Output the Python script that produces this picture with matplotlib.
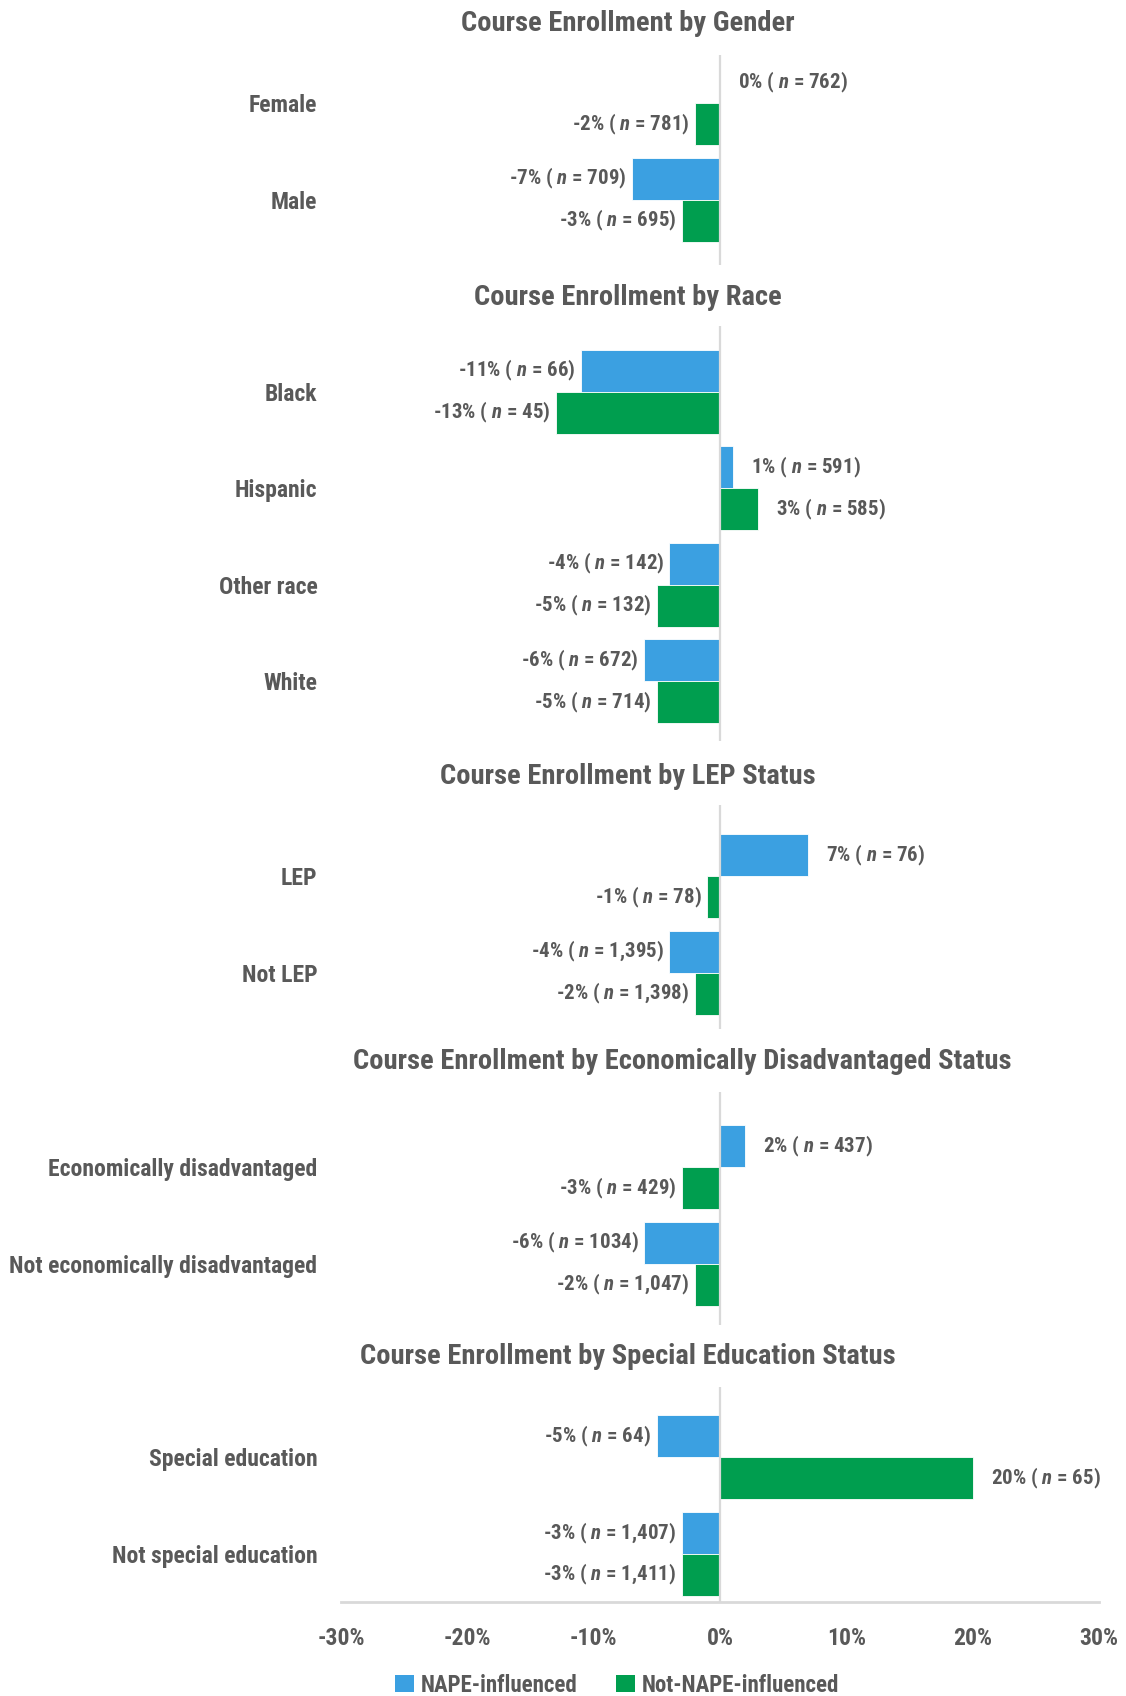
import matplotlib
matplotlib.use("Agg")
import matplotlib.pyplot as plt
from matplotlib import font_manager
from matplotlib.patches import Patch

# ---- data -------------------------------------------------------------
gender_groups = ["Female", "Male"]
gender_nape = [0, -7]
gender_nape_n = ["762", "709"]
gender_other = [-2, -3]
gender_other_n = ["781", "695"]

race_groups = ["Black", "Hispanic", "Other race", "White"]
race_nape = [-11, 1, -4, -6]
race_nape_n = ["66", "591", "142", "672"]
race_other = [-13, 3, -5, -5]
race_other_n = ["45", "585", "132", "714"]

lep_groups = ["LEP", "Not LEP"]
lep_nape = [7, -4]
lep_nape_n = ["76", "1,395"]
lep_other = [-1, -2]
lep_other_n = ["78", "1,398"]

econ_groups = ["Economically disadvantaged", "Not economically disadvantaged"]
econ_nape = [2, -6]
econ_nape_n = ["437", "1034"]
econ_other = [-3, -2]
econ_other_n = ["429", "1,047"]

sped_groups = ["Special education", "Not special education"]
sped_nape = [-5, -3]
sped_nape_n = ["64", "1,407"]
sped_other = [20, -3]
sped_other_n = ["65", "1,411"]

x_ticks = [-30, -20, -10, 0, 10, 20, 30]
series_names = ["NAPE-influenced", "Not-NAPE-influenced"]

# ---- style ------------------------------------------------------------
BLUE = "#3BA0E1"
GREEN = "#009E4F"
TEXT = "#595959"
AXIS_GRAY = "#D9D9D9"

installed = {f.name for f in font_manager.fontManager.ttflist}
NARROW = ["Roboto Condensed", "Liberation Sans Narrow", "Open Sans Condensed"]
narrow_found = [name for name in NARROW if name in installed]
if narrow_found:
    FONT = narrow_found[0]
    SIZES = dict(title=20.5, group=17, value=15, tick=17, legend=16.5)
else:
    FONT = "Roboto"
    SIZES = dict(title=18.5, group=14.8, value=13.8, tick=15, legend=15)

plt.rcParams["font.family"] = [FONT, "DejaVu Sans"]
plt.rcParams["font.weight"] = "bold"
plt.rcParams["mathtext.fontset"] = "custom"
plt.rcParams["mathtext.it"] = f"{FONT}:italic:bold"
plt.rcParams["mathtext.rm"] = f"{FONT}:bold"

W, H = 1126, 1696
UNIT = 96.5          # pixels per category row
X_LEFT, X_RIGHT = 341, 1099
BAR_H = 0.435


def draw_section(fig, top_px, pad_top, pad_bottom, title, title_x, title_base,
                 groups, nape, nape_n, other, other_n, last=False):
    n = len(groups)
    height_px = (n - 1 + pad_top + pad_bottom) * UNIT
    axis = fig.add_axes([X_LEFT / W, 1 - (top_px + height_px) / H,
                         (X_RIGHT - X_LEFT) / W, height_px / H])
    axis.set_xlim(-30, 30)
    axis.set_ylim(n - 1 + pad_bottom, -pad_top)

    rows = list(range(n))
    for values, counts, shift, color in ((nape, nape_n, -BAR_H / 2, BLUE),
                                         (other, other_n, BAR_H / 2, GREEN)):
        ys = [r + shift for r in rows]
        axis.barh(ys, values, height=BAR_H, color=color,
                  edgecolor="white", linewidth=0.6, zorder=2)
        for y, v, c in zip(ys, values, counts):
            label = f"{v}% ( $\\it{{n}}$ = {c})"
            if v < 0:
                axis.annotate(label, (v, y), xytext=(-4, 0), textcoords="offset points",
                              ha="right", va="center", fontsize=SIZES["value"], color=TEXT)
            else:
                axis.annotate(label, (v, y), xytext=(13, 0), textcoords="offset points",
                              ha="left", va="center", fontsize=SIZES["value"], color=TEXT)

    axis.axvline(0, color=AXIS_GRAY, linewidth=1.6, zorder=3)

    axis.set_yticks(rows, groups)
    axis.tick_params(axis="y", length=0, pad=17, labelsize=SIZES["group"], labelcolor=TEXT)
    for side in ("top", "right", "left"):
        axis.spines[side].set_visible(False)

    if last:
        axis.spines["bottom"].set_color(AXIS_GRAY)
        axis.spines["bottom"].set_linewidth(2)
        axis.set_xticks(x_ticks, [f"{t}%" for t in x_ticks])
        axis.tick_params(axis="x", length=0, pad=18, labelsize=SIZES["tick"], labelcolor=TEXT)
    else:
        axis.spines["bottom"].set_visible(False)
        axis.set_xticks([])

    fig.text(title_x / W, 1 - title_base / H, title, ha="center", va="baseline",
             fontsize=SIZES["title"], color=TEXT, fontweight="bold")
    return axis


figure = plt.figure(figsize=(W / 100, H / 100), dpi=100)

draw_section(figure, 55, 0.50, 0.68, "Course Enrollment by Gender", 628, 31,
             gender_groups, gender_nape, gender_nape_n, gender_other, gender_other_n)
draw_section(figure, 326, 0.68, 0.62, "Course Enrollment by Race", 628, 305,
             race_groups, race_nape, race_nape_n, race_other, race_other_n)
draw_section(figure, 805, 0.74, 0.58, "Course Enrollment by LEP Status", 628, 784,
             lep_groups, lep_nape, lep_nape_n, lep_other, lep_other_n)
draw_section(figure, 1092, 0.78, 0.63,
             "Course Enrollment by Economically Disadvantaged Status", 682, 1069,
             econ_groups, econ_nape, econ_nape_n, econ_other, econ_other_n)
draw_section(figure, 1387, 0.73, 0.50,
             "Course Enrollment by Special Education Status", 628, 1364,
             sped_groups, sped_nape, sped_nape_n, sped_other, sped_other_n, last=True)

handles = [Patch(facecolor=BLUE), Patch(facecolor=GREEN)]
figure.legend(handles, series_names, loc="center", ncol=2, frameon=False,
              bbox_to_anchor=(617 / W, 1 - 1685 / H), fontsize=SIZES["legend"],
              handlelength=0.8, handleheight=0.8, handletextpad=0.3,
              columnspacing=1.7, labelcolor=TEXT)

figure.savefig("out.png", dpi=100)
